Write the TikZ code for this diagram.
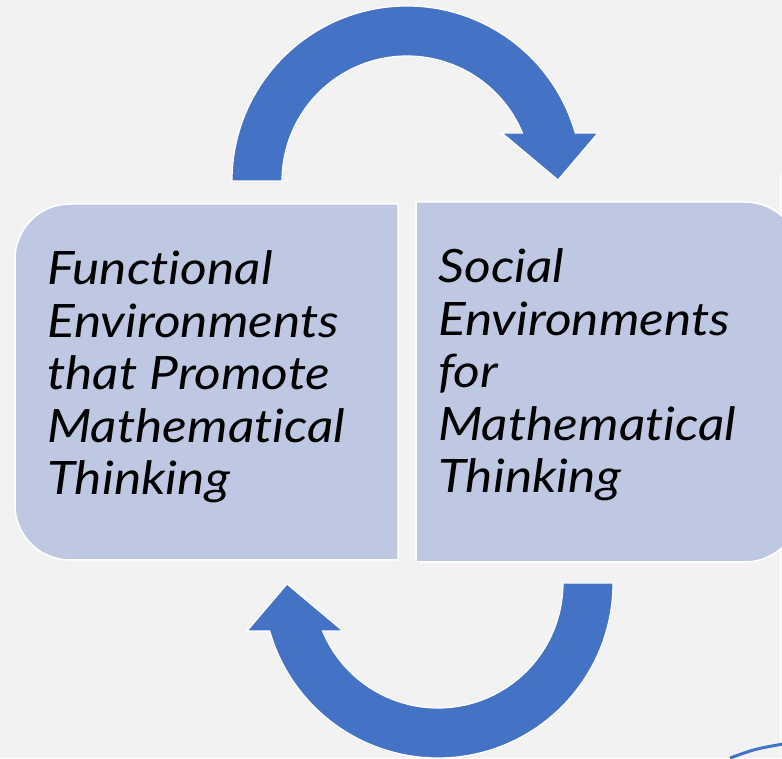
\documentclass[tikz,border=0pt]{standalone}
\usepackage{fontspec}
\setsansfont{Lato}[Ligatures=NoCommon, FakeStretch=1.12]

\definecolor{bggray}{RGB}{242,242,242}
\definecolor{boxfill}{RGB}{191,200,227}
\definecolor{arrowblue}{RGB}{68,114,196}

\begin{document}
\begin{tikzpicture}[x=1pt, y=1pt,
  box/.style={fill=boxfill, draw=white, line width=1.5pt},
  boxtext/.style={inner sep=0pt, align=left,
    font=\sffamily\itshape\fontsize{46}{52.5}\selectfont},
  cyclearrow/.pic={
    \filldraw[fill=arrowblue, draw=white, line width=1.2pt]
      (-175,0) arc[start angle=180, end angle=15.9, radius=175]
      -- (191,48) -- (151,1) -- (95,48)
      -- (22.6:125) arc[start angle=22.6, end angle=180, radius=125] -- cycle;
  }]
  \clip (0,0) rectangle (782,758);
  \fill[bggray] (0,0) rectangle (782,758);
  \draw[white, line width=1.5pt] (780.5,0) -- (780.5,585);

  % the two halves of the cycle
  \draw[box] (398,198) -- (398,554) -- (70,554)
    arc[start angle=90, end angle=180, radius=55] -- (15,253)
    arc[start angle=180, end angle=270, radius=55] -- cycle;
  \draw[box] (416,196) -- (416,556) -- (745,556)
    arc[start angle=90, end angle=0, radius=55] -- (800,251)
    arc[start angle=0, end angle=-90, radius=55] -- cycle;

  % base is the baseline of the last line
  \node[boxtext, anchor=base west] (functional) at (47,263)
    {Functional\\Environments\\that Promote\\Mathematical\\Thinking};
  \node[boxtext, anchor=base west] (social) at (438,265)
    {Social\\Environments\\for\\Mathematical\\Thinking};

  % arrows round the cycle
  \pic at (407,577) {cyclearrow};
  \pic[rotate=180] at (438,175) {cyclearrow};

  \draw[arrowblue, line width=3pt] (730,0) .. controls (755,9) .. (783,14);
\end{tikzpicture}
\end{document}
